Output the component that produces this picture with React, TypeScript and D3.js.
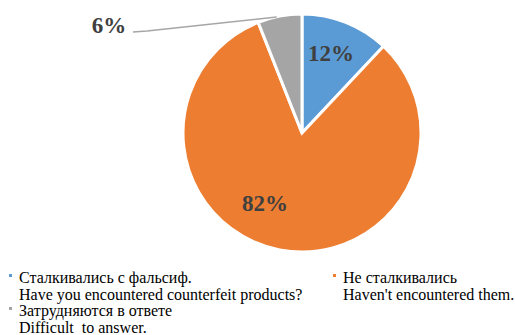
import React from "react";
import * as d3 from "d3";

const categories = ["Сталкивались с фальсиф.", "Не сталкивались", "Затрудняются в ответе"];
const subtitles = ["Have you encountered counterfeit products?", "Haven't encountered them.", "Difficult  to answer."];
const values = [12, 82, 6];
const colors = ["#5b9bd5", "#ed7d31", "#a5a5a5"];

export default function App() {
  const W = 515, H = 335;
  const cx = 302, cy = 133, r = 119;
  const pie = d3.pie<number>().sort(null).value((d) => d);
  const arcs = pie(values);
  const arc = d3.arc<d3.PieArcDatum<number>>().innerRadius(0).outerRadius(r);
  const font = "Liberation Serif";

  const labelPos = [
    [331, 61],
    [265, 211],
    [109, 33],
  ];
  const g = arcs[2];
  const midA = (g.startAngle + g.endAngle) / 2;
  const edge = [cx + Math.sin(midA) * r, cy - Math.cos(midA) * r];

  const legend = [
    { x: 9, y: 283, i: 0 },
    { x: 333, y: 283, i: 1 },
    { x: 9, y: 316, i: 2 },
  ];

  return (
    <svg width={W} height={H} style={{ position: "absolute", left: 0, top: 0 }}>
      <defs>
        <clipPath id="legclip">
          <rect x={0} y={0} width={W} height={333.5} />
        </clipPath>
      </defs>
      <rect width={W} height={H} fill="#fff" />
      <g transform={`translate(${cx},${cy})`}>
        {arcs.map((a, i) => (
          <path key={i} d={arc(a) || ""} fill={colors[i]} stroke="#fff" strokeWidth={3} />
        ))}
      </g>
      <polyline
        points={`133,32 147,31 ${edge[0] - 3},${edge[1] + 1}`}
        fill="none"
        stroke="#a6a6a6"
        strokeWidth={1.5}
      />
      {arcs.map((a, i) => (
        <text
          key={i}
          x={labelPos[i][0]}
          y={labelPos[i][1]}
          textAnchor="middle"
          style={{ fontFamily: font, fontWeight: "bold", fontSize: 23 }}
          fill="#404040"
        >
          {values[i]}%
        </text>
      ))}
      <g clipPath="url(#legclip)">
        {legend.map((l) => (
          <g key={l.i}>
            <rect x={l.x} y={l.y - 9} width={3} height={3} fill={colors[l.i]} />
            <text x={l.x + 10} y={l.y} style={{ fontFamily: font, fontSize: 16 }} fill="#000">{categories[l.i]}</text>
            <text x={l.x + 10} y={l.y + 16.5} style={{ fontFamily: font, fontSize: 16, whiteSpace: "pre" }} fill="#000">{subtitles[l.i]}</text>
          </g>
        ))}
      </g>
    </svg>
  );
}
